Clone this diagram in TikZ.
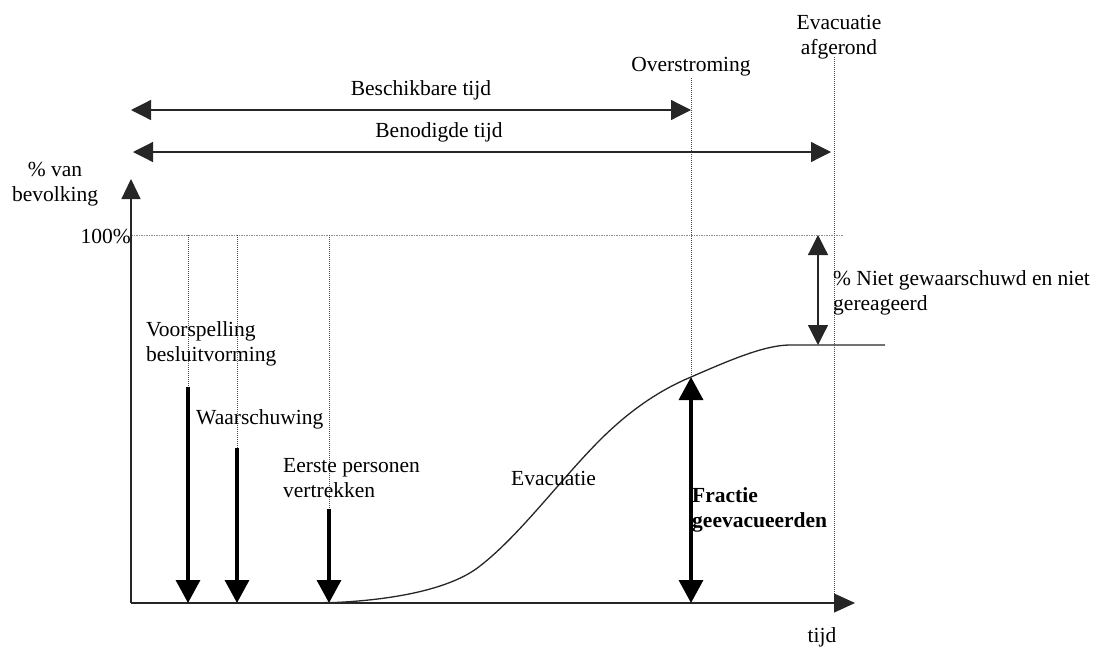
\documentclass[tikz,border=0pt]{standalone}
\usepackage{fontspec}
\setmainfont{Liberation Serif}
\usetikzlibrary{arrows.meta}
\begin{document}
\begin{tikzpicture}[x=1pt,y=-1pt,
  lbl/.style={font=\fontsize{21.5}{25}\selectfont, inner sep=0pt},
  axisline/.style={line width=1.2pt, black!85},
  thinarrow/.style={line width=1.2pt, black!85, {Triangle[length=20pt,width=20pt]}-{Triangle[length=20pt,width=20pt]}},
  thickarrow/.style={line width=3.4pt, -{Triangle[length=23pt,width=24pt]}},
  guide/.style={line width=0.9pt, black!70, dash pattern=on 1pt off 1pt},
  guidelight/.style={line width=0.9pt, black!45, dash pattern=on 1.5pt off 1pt},
  curveline/.style={line width=1.3pt, black!85}
]
\useasboundingbox (0,0) rectangle (1101,646);
% coordinates
\coordinate (O) at (131,603);
\coordinate (yT) at (131,179);
\coordinate (xT) at (855,603);
\coordinate (hL) at (131,235);
\coordinate (hR) at (843,235);
\coordinate (vA) at (188,235);  \coordinate (vAb) at (188,387); \coordinate (vAe) at (188,603);
\coordinate (vB) at (237,235);  \coordinate (vBb) at (237,448); \coordinate (vBe) at (237,603);
\coordinate (vC) at (329,235);  \coordinate (vCb) at (329,509); \coordinate (vCe) at (329,603);
\coordinate (ovT) at (691,78);  \coordinate (ovB) at (691,603); \coordinate (ovC) at (691,377);
\coordinate (afT) at (834,57);  \coordinate (afB) at (834,603);
\coordinate (beL) at (131,110); \coordinate (beR) at (691,110);
\coordinate (bnL) at (133,152); \coordinate (bnR) at (831,152);
\coordinate (nT) at (818,235);  \coordinate (nB) at (818,345);
% guides
\draw[guidelight] (hL) -- (hR);
\draw[guide] (vA) -- (vAb);
\draw[guide] (vB) -- (vBb);
\draw[guide] (vC) -- (vCb);
\draw[guide] (ovT) -- (ovB);
\draw[guide] (afT) -- (afB);
% axes
\draw[axisline, -{Triangle[length=20pt,width=19pt]}] (O) -- (yT);
\draw[axisline, -{Triangle[length=21pt,width=19pt]}] (O) -- (xT);
% time arrows
\draw[thinarrow] (beL) -- (beR);
\draw[thinarrow] (bnL) -- (bnR);
% event arrows
\draw[thickarrow] (vAb) -- (vAe);
\draw[thickarrow] (vBb) -- (vBe);
\draw[thickarrow] (vCb) -- (vCe);
\draw[line width=3.4pt, {Triangle[length=23pt,width=24pt]}-{Triangle[length=23pt,width=24pt]}] (ovC) -- (ovB);
\draw[thinarrow] (nT) -- (nB);
% curve
\draw[curveline] (299,603) -- (335,602.5)
  .. controls (390,600) and (450,590) .. (480,566)
  .. controls (520,535) and (560,480) .. (600,440)
  .. controls (630,410) and (660,390) .. (691,377)
  .. controls (730,360) and (765,345) .. (790,345)
  -- (885,345);
% labels
\node[lbl, anchor=base] (besch) at (421,95) {Beschikbare tijd};
\node[lbl, anchor=base] (benod) at (439,137) {Benodigde tijd};
\node[lbl, anchor=base] (overs) at (691,71) {Overstroming};
\node[lbl, anchor=base, align=center] (afger) at (839,54) {Evacuatie\\afgerond};
\node[lbl, anchor=base, align=center] (pvan) at (55,201) {\% van\\bevolking};
\node[lbl, anchor=base east] (honderd) at (131,243) {100\%};
\node[lbl, anchor=base west, align=left] (voors) at (146,361) {Voorspelling\\besluitvorming};
\node[lbl, anchor=base west] (waars) at (196,424) {Waarschuwing};
\node[lbl, anchor=base west, align=left] (eerste) at (283,497) {Eerste personen\\vertrekken};
\node[lbl, anchor=base west] (evac) at (511,485) {Evacuatie};
\node[lbl, anchor=base west, align=left, font=\fontsize{21.5}{25}\selectfont\bfseries] (fractie) at (692,527) {Fractie\\geevacueerden};
\node[lbl, anchor=base west, align=left] (niet) at (833,310) {\% Niet gewaarschuwd en niet\\gereageerd};
\node[lbl, anchor=base] (tijd) at (822,642) {tijd};
\end{tikzpicture}
\end{document}
